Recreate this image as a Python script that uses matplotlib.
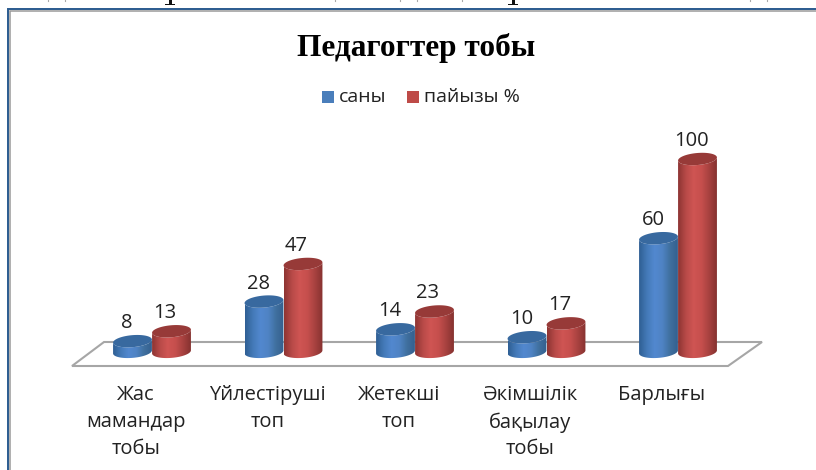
import numpy as np
import matplotlib
matplotlib.use("Agg")
import matplotlib.pyplot as plt
from matplotlib.colors import LinearSegmentedColormap
from matplotlib.patches import Polygon, Rectangle

categories = ["Жас\nмамандар\nтобы", "Үйлестіруші\nтоп", "Жетекші\nтоп", "Әкімшілік\nбақылау\nтобы", "Барлығы"]
sany = [8, 28, 14, 10, 60]
paiyzy = [13, 47, 23, 17, 100]
series_names = ["саны", "пайызы %"]

plt.rcParams['font.family'] = ['Open Sans', 'DejaVu Sans']

# scale of the plot in pixels
PX_X = 131.5
PX_Y = 1.98
X0 = 152
Y0 = 357
W, H = 816, 470


def px(x, y):
    """Picture pixel to data coordinates, only used for the layout."""
    return (x - X0) / PX_X, (Y0 - y) / PX_Y


def ellipse(cx, cy, a=19.5, b=6.0, tilt=5):
    # cx in data, cy in data, shape is worked out in pixels
    t = np.linspace(0, 2 * np.pi, 121)
    r = np.radians(tilt)
    ex = a * np.cos(t) * np.cos(r) - b * np.sin(t) * np.sin(r)
    ey = a * np.cos(t) * np.sin(r) + b * np.sin(t) * np.cos(r)
    return cx + ex / PX_X, cy + ey / PX_Y, t


def cylinder(ax, x, val, side_cmap, top_color):
    base = 2.6
    tx, ty, t = ellipse(x, val)
    bx, by, _ = ellipse(x, base)
    # body: lower half of bottom ellipse, then back along the top
    low = (t >= np.pi)
    body = np.column_stack([
        np.r_[bx[low], tx[low][::-1]],
        np.r_[by[low], ty[low][::-1]],
    ])
    patch = Polygon(body, closed=True, fc="none", ec="none")
    ax.add_patch(patch)
    half = 19.5 / PX_X
    im = ax.imshow(np.linspace(0, 1, 64).reshape(1, -1), cmap=side_cmap, aspect="auto",
                   extent=(x - half, x + half, base - 5, val + 5), zorder=3)
    im.set_clip_path(patch)
    ax.fill(tx, ty, color=top_color, lw=0, zorder=4)


fig = plt.figure(figsize=(8.16, 4.7), dpi=100)
ax = fig.add_axes([0, 0, 1, 1])

blue_cmap = LinearSegmentedColormap.from_list("b", ["#2f5f94", "#447ab8", "#5288cf", "#4f83c4", "#40709f", "#34608f"])
red_cmap = LinearSegmentedColormap.from_list("r", ["#8e3533", "#b84a48", "#cf5553", "#c64f4d", "#a84240", "#863230"])

# floor of the 3D plot
ax.add_patch(Polygon([px(72, 366), px(104, 342), px(762, 342), px(728, 366)],
                     closed=True, fc="white", ec="#a6a6a6", lw=1.5, zorder=1))

for i, (a, b) in enumerate(zip(sany, paiyzy)):
    cylinder(ax, i - 19.5 / PX_X, a, blue_cmap, "#38699f")
    cylinder(ax, i + 19.5 / PX_X, b, red_cmap, "#973a38")
    ax.text(i - 25 / PX_X, a + 8 / PX_Y, str(a), ha="center", va="bottom",
            fontsize=14.5, color="#222222", zorder=5)
    ax.text(i + 13 / PX_X, b + 8 / PX_Y, str(b), ha="center", va="bottom",
            fontsize=14.5, color="#222222", zorder=5)
    ax.text(i - 16 / PX_X, px(0, 385)[1], categories[i], ha="center", va="top",
            fontsize=14.5, color="#222222", linespacing=1.46, zorder=5)

ax.text(*px(416, 48), "Педагогтер тобы", ha="center", va="center",
        fontsize=22.5, fontweight="bold", family=["Liberation Serif", "DejaVu Serif"], color="black")

# legend, placed by hand like the original
for sq_x, txt_x, color, name in [(322, 339, "#4a7ebb", series_names[0]), (407, 424, "#be4b48", series_names[1])]:
    x0, y0 = px(sq_x, 103)
    ax.add_patch(Rectangle((x0, y0), 12 / PX_X, 12 / PX_Y, fc=color, ec="none"))
    ax.text(*px(txt_x, 97), name, ha="left", va="center", fontsize=14, color="#222222")

# outer frame, only top and left are visible
ax.plot(*zip(px(8, H), px(8, 9), px(W, 9)), color="#2a5a8e", lw=1.4, solid_joinstyle="miter", zorder=6)
ax.plot(*zip(px(10, H), px(10, 11), px(W, 11)), color="#9a9a9a", lw=1.1, solid_joinstyle="miter", zorder=6)

# bits of the text line cut off above the chart
for tick_x in [48, 65, 335, 400, 417, 462, 750, 767]:
    ax.plot(*zip(px(tick_x, 0), px(tick_x, 1.5)), color="#aaaaaa", lw=0.8, zorder=6)
for cut_x in [170, 513]:
    ax.add_patch(Rectangle(px(cut_x - 1.5, 4), 3 / PX_X, 4 / PX_Y, fc="#111111", ec="none", zorder=6))
    ax.add_patch(Rectangle(px(cut_x - 5, 5), 10 / PX_X, 1.2 / PX_Y, fc="#111111", ec="none", zorder=6))

ax.set_xlim(px(0, 0)[0], px(W, 0)[0])
ax.set_ylim(px(0, H)[1], px(0, 0)[1])
ax.axis("off")

fig.savefig("out.png", dpi=100)
